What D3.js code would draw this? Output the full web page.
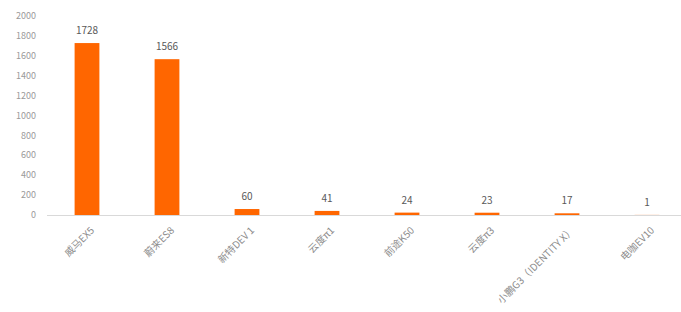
<!DOCTYPE html>
<html>
<head>
  <meta charset="utf-8">
  <script src="https://d3js.org/d3.v7.min.js"></script>
  <style>
    body { margin: 0; background: #fff; }
    text { font-family: "Noto Sans CJK SC", "Noto Sans", sans-serif; }
  </style>
</head>
<body>
  <svg width="681" height="312"></svg>
  <script>
    var categories = ["威马EX5", "蔚来ES8", "新特DEV 1", "云度π1", "前途K50", "云度π3", "小鹏G3（IDENTITY X）", "电咖EV10"];
    var values = [1728, 1566, 60, 41, 24, 23, 17, 1];
    var yTicks = [0, 200, 400, 600, 800, 1000, 1200, 1400, 1600, 1800, 2000];

    var svg = d3.select("svg");

    var x = d3.scaleBand()
      .domain(categories)
      .range([47, 687])
      .paddingInner(0.69)
      .paddingOuter(0.345);

    var y = d3.scaleLinear()
      .domain([0, 2000])
      .range([215, 16]);

    // y tick labels
    svg.append("g")
      .selectAll("text")
      .data(yTicks)
      .enter()
      .append("text")
      .attr("x", 36)
      .attr("y", function(d) { return y(d); })
      .attr("dy", "0.35em")
      .attr("text-anchor", "end")
      .attr("font-size", 9)
      .attr("fill", "#9a9a9a")
      .text(function(d) { return d; });

    // baseline
    svg.append("line")
      .attr("x1", 47)
      .attr("x2", 681)
      .attr("y1", y(0) + 0.5)
      .attr("y2", y(0) + 0.5)
      .attr("stroke", "#d9d9d9");

    // bars
    svg.append("g")
      .selectAll("rect")
      .data(values)
      .enter()
      .append("rect")
      .attr("x", function(d, i) { return x(categories[i]); })
      .attr("width", x.bandwidth())
      .attr("y", function(d) { return y(d); })
      .attr("height", function(d) { return y(0) - y(d); })
      .attr("fill", "#ff6600");

    // value labels
    svg.append("g")
      .selectAll("text")
      .data(values)
      .enter()
      .append("text")
      .attr("x", function(d, i) { return x(categories[i]) + x.bandwidth() / 2; })
      .attr("y", function(d) { return y(d) - 9; })
      .attr("text-anchor", "middle")
      .attr("font-size", 10)
      .attr("fill", "#595959")
      .text(function(d) { return d; });

    // category labels, rotated
    svg.append("g")
      .selectAll("text")
      .data(categories)
      .enter()
      .append("text")
      .attr("transform", function(d) {
        var cx = x(d) + x.bandwidth() / 2 + 8;
        return "translate(" + cx + ",231) rotate(-45)";
      })
      .attr("text-anchor", "end")
      .attr("font-size", 10)
      .attr("fill", "#8c8c8c")
      .text(function(d) { return d; });
  </script>
</body>
</html>
